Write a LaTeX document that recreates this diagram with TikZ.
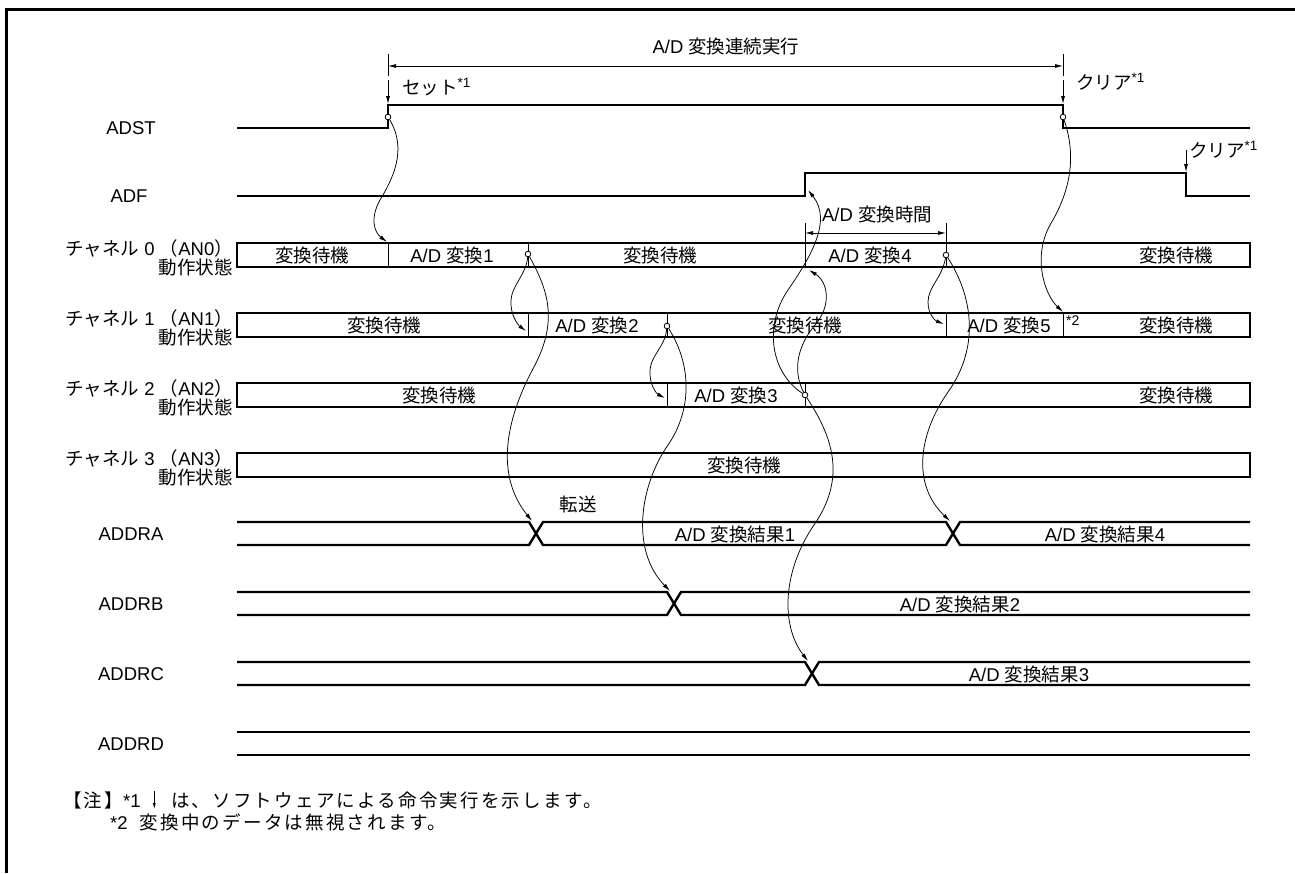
\documentclass[tikz,border=0pt]{standalone}
\usepackage{fontspec}
\setmainfont{Liberation Sans}
\newfontfamily\jpfont{Noto Sans CJK JP}
\newfontfamily\jpnote[LetterSpace=12]{Noto Sans CJK JP}
\usetikzlibrary{arrows.meta,calc}
\newcommand\jtxt[1]{{\jpfont #1}}
\newcommand\jnote[1]{{\jpnote #1}}
\newcommand\fnmark[1]{\raisebox{0.38em}{\fontsize{13.5}{14}\selectfont *#1}}
\begin{document}
\begin{tikzpicture}[x=1pt,y=-1pt,
  txt/.style={inner sep=0pt, font=\fontsize{18.5}{19.5}\selectfont},
  sig/.style={line width=2.4pt},
  boxs/.style={line width=2.4pt},
  divl/.style={line width=0.8pt},
  conn/.style={line width=0.75pt, -{Latex[length=8pt,width=4pt]}},
  dimarr/.style={line width=0.75pt, {Latex[length=8pt,width=4pt]}-{Latex[length=8pt,width=4pt]}},
  tick/.style={line width=0.75pt},
  dot/.style={circle, draw, line width=0.7pt, fill=white, inner sep=0pt, minimum size=5.5pt},
]
\useasboundingbox (0,0) rectangle (1295,873);
% frame
\draw[line width=3pt] (6.5,873) -- (6.5,9) -- (1295,9);

% ---------- top annotation ----------
\node[txt] (title) at (726,46) {A/D \jtxt{変換連続実行}};
\coordinate (dl) at (388,66);
\coordinate (dr) at (1063,66);
\draw[tick] (388,54) -- (388,76);
\draw[tick] (1063,54) -- (1063,76);
\draw[dimarr] (dl) -- (dr);
\coordinate (setT) at (388,80);
\coordinate (setB) at (388,104);
\draw[conn] (setT) -- (setB);
\node[txt, anchor=west] (set) at (402,87) {\jtxt{セット}\fnmark{1}};
\coordinate (clrT) at (1063,80);
\coordinate (clrB) at (1063,104);
\draw[conn] (clrT) -- (clrB);
\node[txt, anchor=west] (clr) at (1076,82) {\jtxt{クリア}\fnmark{1}};

% ---------- ADST / ADF ----------
\node[txt] (lADST) at (131,128) {ADST};
\draw[sig] (237,128) -- (388,128) -- (388,105) -- (1063,105) -- (1063,128) -- (1250,128);
\node[txt] (lADF) at (129,196) {ADF};
\draw[sig] (237,196) -- (805,196) -- (805,173) -- (1186,173) -- (1186,196) -- (1250,196);
\coordinate (adfclrT) at (1186,150);
\coordinate (adfclrB) at (1186,172);
\draw[conn] (adfclrT) -- (adfclrB);
\node[txt, anchor=west] (adfclr) at (1189,150) {\jtxt{クリア}\fnmark{1}};

% A/D conversion time dimension
\draw[tick] (805,223) -- (805,243);
\draw[tick] (946,223) -- (946,243);
\coordinate (tl) at (805,233);
\coordinate (tr) at (946,233);
\draw[dimarr] (tl) -- (tr);
\node[txt] (convtime) at (877,214) {A/D \jtxt{変換時間}};

% ---------- channel labels ----------
\node[txt, align=right, anchor=north east] (l0) at (233,239) {\jtxt{チャネル} 0 \jtxt{（}AN0\jtxt{）}\\\jtxt{動作状態}};
\node[txt, align=right, anchor=north east] (l1) at (233,309) {\jtxt{チャネル} 1 \jtxt{（}AN1\jtxt{）}\\\jtxt{動作状態}};
\node[txt, align=right, anchor=north east] (l2) at (233,379) {\jtxt{チャネル} 2 \jtxt{（}AN2\jtxt{）}\\\jtxt{動作状態}};
\node[txt, align=right, anchor=north east] (l3) at (233,449) {\jtxt{チャネル} 3 \jtxt{（}AN3\jtxt{）}\\\jtxt{動作状態}};

% ---------- channel boxes ----------
\draw[boxs] (237,243) rectangle (1250,267);
\draw[divl] (388,243) -- (388,267);
\draw[divl] (528,243) -- (528,267);
\draw[divl] (805,243) -- (805,267);
\draw[divl] (946,243) -- (946,267);
\node[txt] (c0a) at (312,255) {\jtxt{変換待機}};
\node[txt] (c0b) at (452,255) {A/D \jtxt{変換}1};
\node[txt] (c0c) at (660,255) {\jtxt{変換待機}};
\node[txt] (c0d) at (870,255) {A/D \jtxt{変換}4};
\node[txt] (c0e) at (1176,255) {\jtxt{変換待機}};

\draw[boxs] (237,313) rectangle (1250,337);
\draw[divl] (528,313) -- (528,337);
\draw[divl] (667,313) -- (667,337);
\draw[divl] (946,313) -- (946,337);
\draw[divl] (1063,313) -- (1063,337);
\node[txt] (c1a) at (384,325) {\jtxt{変換待機}};
\node[txt] (c1b) at (597,325) {A/D \jtxt{変換}2};
\node[txt] (c1c) at (805,325) {\jtxt{変換待機}};
\node[txt] (c1d) at (1009,325) {A/D \jtxt{変換}5};
\node[inner sep=0pt, anchor=west, font=\fontsize{14}{14}\selectfont] (star2) at (1066,321) {*2};
\node[txt] (c1e) at (1176,325) {\jtxt{変換待機}};

\draw[boxs] (237,383) rectangle (1250,407);
\draw[divl] (667,383) -- (667,407);
\draw[divl] (805,383) -- (805,407);
\node[txt] (c2a) at (439,395) {\jtxt{変換待機}};
\node[txt] (c2b) at (736,395) {A/D \jtxt{変換}3};
\node[txt] (c2c) at (1176,395) {\jtxt{変換待機}};

\draw[boxs] (237,453) rectangle (1250,477);
\node[txt] (c3a) at (744,465) {\jtxt{変換待機}};

% ---------- data registers ----------
\node[txt] (lA) at (131,534) {ADDRA};
\draw[sig] (237,522) -- (529,522) -- (543,545) -- (946,545) -- (960,522) -- (1250,522);
\draw[sig] (237,545) -- (529,545) -- (543,522) -- (946,522) -- (960,545) -- (1250,545);
\node[txt] (xfer) at (578,504) {\jtxt{転送}};
\node[txt] (rA1) at (735,534) {A/D \jtxt{変換結果}1};
\node[txt] (rA4) at (1105,534) {A/D \jtxt{変換結果}4};

\node[txt] (lB) at (131,604) {ADDRB};
\draw[sig] (237,592) -- (667,592) -- (681,615) -- (1250,615);
\draw[sig] (237,615) -- (667,615) -- (681,592) -- (1250,592);
\node[txt] (rB2) at (960,604) {A/D \jtxt{変換結果}2};

\node[txt] (lC) at (131,674) {ADDRC};
\draw[sig] (237,662) -- (805,662) -- (819,685) -- (1250,685);
\draw[sig] (237,685) -- (805,685) -- (819,662) -- (1250,662);
\node[txt] (rC3) at (1029,674) {A/D \jtxt{変換結果}3};

\node[txt] (lD) at (131,744) {ADDRD};
\draw[sig] (237,732) -- (1250,732);
\draw[sig] (237,755) -- (1250,755);

% ---------- causal connectors ----------
\node[dot] (s0) at (388,117) {};
\node[dot] (sC) at (1063,117) {};
\node[dot] (e1) at (528,254) {};
\node[dot] (e2) at (667,326) {};
\node[dot] (e3) at (805,395) {};
\node[dot] (e4) at (946,255) {};

\coordinate (t0) at (387,242);
\coordinate (t1) at (526,331);
\coordinate (t2) at (665,398);
\coordinate (t3) at (809,270);
\coordinate (tADF) at (808,190);
\coordinate (t4) at (944,324);
\coordinate (tA1) at (532,521);
\coordinate (tA2) at (950,521);
\coordinate (tB) at (670,591);
\coordinate (tC) at (808,661);
\coordinate (tCl) at (1063,312);

\draw[conn] (s0) .. controls (408,150) and (392,180) .. (380,200) .. controls (370,218) and (374,232) .. (t0);
\draw[conn] (e1) .. controls (526,275) and (512,285) .. (511,300) .. controls (510,315) and (518,325) .. (t1);
\draw[conn] (e1) .. controls (548,290) and (558,320) .. (535,365) .. controls (505,420) and (495,475) .. (tA1);
\draw[conn] (e2) .. controls (665,347) and (651,355) .. (650,370) .. controls (649,385) and (657,394) .. (t2);
\draw[conn] (e2) .. controls (692,365) and (692,410) .. (668,445) .. controls (640,485) and (630,550) .. (tB);
\draw[conn] (e3) .. controls (792,370) and (798,345) .. (815,325) .. controls (832,305) and (828,282) .. (t3);
\draw[conn] (e3) .. controls (770,372) and (764,325) .. (788,290) .. controls (812,255) and (832,220) .. (tADF);
\draw[conn] (e3) .. controls (835,440) and (845,480) .. (814,525) .. controls (783,570) and (780,625) .. (tC);
\draw[conn] (e4) .. controls (942,278) and (928,287) .. (928,302) .. controls (928,315) and (936,321) .. (t4);
\draw[conn] (e4) .. controls (975,300) and (978,350) .. (948,392) .. controls (918,435) and (912,485) .. (tA2);
\draw[conn] (sC) .. controls (1078,160) and (1068,195) .. (1050,225) .. controls (1032,258) and (1045,295) .. (tCl);
% circles on top of the connectors
\node[dot] at (s0) {};
\node[dot] at (sC) {};
\node[dot] at (e1) {};
\node[dot] at (e2) {};
\node[dot] at (e3) {};
\node[dot] at (e4) {};

% ---------- notes ----------
\node[txt, anchor=west] (n1a) at (63,800) {\jnote{【注】}*1};
\node[txt, anchor=west] (n1b) at ([xshift=30pt]n1a.east) {\jnote{は、ソフトウェアによる命令実行を示します。}};
\coordinate (nm) at ($(n1a.east)!0.45!(n1b.west)$);
\coordinate (nT) at ([yshift=9pt]nm);
\coordinate (nB) at ([yshift=-9pt]nm);
\draw[line width=0.75pt, -{Latex[length=6pt,width=3pt]}] (nT) -- (nB);
\node[txt, anchor=west] (n2) at (110,822) {*2\hspace{12pt}\jnote{変換中のデータは無視されます。}};
\end{tikzpicture}
\end{document}
